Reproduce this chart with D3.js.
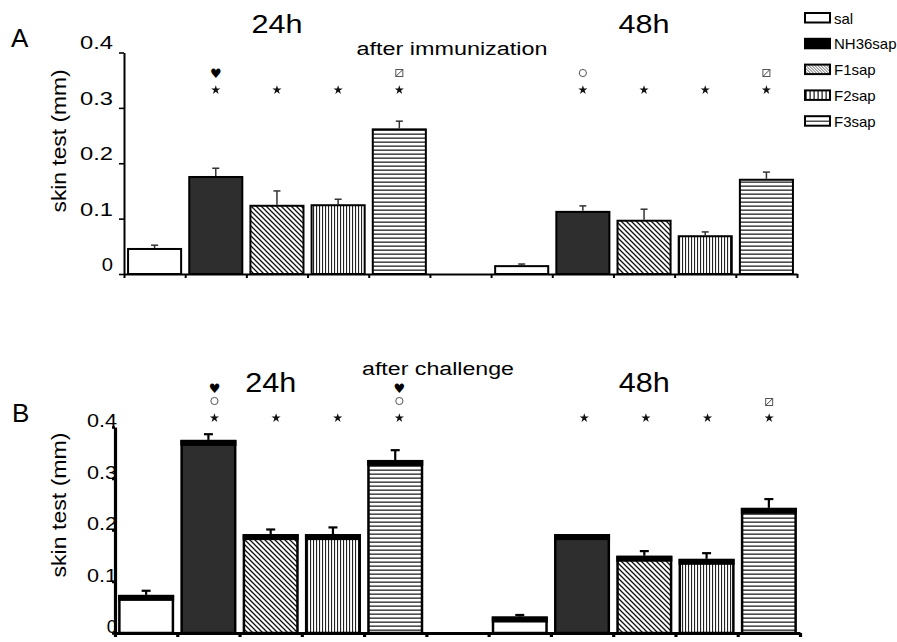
<!DOCTYPE html>
<html><head><meta charset="utf-8">
<script src="https://cdn.jsdelivr.net/npm/d3@7"></script>
<style>
body{margin:0;background:#fff}
svg{display:block}
text{font-family:"Liberation Sans",Arial,Helvetica,sans-serif;fill:#000}
</style>
</head><body><div id="chart"></div>
<script>
// ---------- data ----------
const groups = ["sal","NH36sap","F1sap","F2sap","F3sap"];
const timeLabels = ["24h","48h"];
const yTicks = [0,0.1,0.2,0.3,0.4];
const yTickLabels = ["0","0.1","0.2","0.3","0.4"];

const immun24    = [0.047,0.177,0.125,0.126,0.263];
const immun24Err = [0.005,0.014,0.025,0.009,0.013];
const immun48    = [0.016,0.114,0.098,0.070,0.172];
const immun48Err = [0.002,0.009,0.019,0.006,0.012];
const chall24    = [0.074,0.375,0.192,0.192,0.336];
const chall24Err = [0.008,0.011,0.009,0.013,0.019];
const chall48    = [0.032,0.192,0.150,0.144,0.243];
const chall48Err = [0.003,0.000,0.009,0.011,0.017];

const immunMarks24 = [[],["star","heart"],["star"],["star"],["star","box"]];
const immunMarks48 = [[],["star","circle"],["star"],["star"],["star","box"]];
const challMarks24 = [[],["star","circle","heart"],["star"],["star"],["star","circle","heart"]];
const challMarks48 = [[],["star"],["star"],["star"],["star","box"]];

const panelTitles = ["after immunization","after challenge"];
const panelLetters = ["A","B"];
const yLabel = "skin test (mm)";

// ---------- setup ----------
const W = 897, H = 642;
const svg = d3.select("#chart").append("svg").attr("width",W).attr("height",H);
const defs = svg.append("defs");

function pat(id,w,h,draw){
  const p = defs.append("pattern").attr("id",id).attr("patternUnits","userSpaceOnUse")
    .attr("width",w).attr("height",h);
  p.append("rect").attr("width",w).attr("height",h).attr("fill","#fff");
  draw(p);
}
pat("pF1",5,5,p=>p.append("path").attr("d","M0,0L5,5M-1,4L1,6M4,-1L6,1")
   .attr("stroke","#111").attr("stroke-width",1.3));
pat("pF2",3,10,p=>p.append("rect").attr("x",1).attr("width",1.1).attr("height",10).attr("fill","#222"));
pat("pF3",10,4,p=>p.append("rect").attr("y",1.5).attr("width",10).attr("height",1.3).attr("fill","#222"));
pat("pF1s",3,3,p=>p.append("path").attr("d","M0,0L3,3M-1,2L1,4M2,-1L4,1")
   .attr("stroke","#333").attr("stroke-width",0.8));
pat("pF2s",4,10,p=>p.append("rect").attr("x",1.5).attr("width",1.2).attr("height",10).attr("fill","#111"));

const fills = ["#fff","#2e2e2e","url(#pF1)","url(#pF2)","url(#pF3)"];

const panels = [
  {x0:124,x1:797,y0:274,y1:52.5,axisW:2,barW:2,thickTop:false,errW:1.5,errCol:"#333",cap:7,
   data:[immun24,immun48],err:[immun24Err,immun48Err],marks:[immunMarks24,immunMarks48],
   annot:[124,797],rowY:{star:90,heart:73,box:73,circle:73},
   letter:{x:11,y:47},title:{x:452,y:55,len:191},time:{y:33,size:25},
   tickOff:-10,tickPad:6,tickSize:5,tickFont:18,tickLen:33,ylab:{x:66,y:141,len:143}},
  {x0:115,x1:800,y0:633,y1:427,axisW:3.2,barW:2.5,thickTop:true,errW:2.2,errCol:"#000",cap:9,
   data:[chall24,chall48],err:[chall24Err,chall48Err],marks:[challMarks24,challMarks48],
   annot:[122,800],rowY:{star:418,circle:401,heart:388,box:402},
   letter:{x:12,y:422},title:{x:438,y:375,len:152},time:{y:392,size:27},
   tickOff:-7,tickPad:-5,tickSize:3,tickFont:19,tickLen:30,ylab:{x:66,y:505,len:145}}
];

panels.forEach((P,pi)=>{
  const g = svg.append("g");
  const slots = d3.range(11);
  const xb = d3.scaleBand().domain(slots).range([P.x0,P.x1]).paddingInner(0.1).paddingOuter(0.05);
  const xEdge = d3.scaleLinear().domain([0,11]).range([P.x0,P.x1]);
  const xAnn = d3.scaleLinear().domain([0,11]).range(P.annot);
  const y = d3.scaleLinear().domain([0,0.4]).range([P.y0,P.y1]);

  const rows = [];
  P.data.forEach((vals,t)=>vals.forEach((v,i)=>rows.push({t,i,v,e:P.err[t][i],slot:t*6+i,marks:P.marks[t][i]})));

  // error bars (behind bars)
  const eb = g.append("g").selectAll("g").data(rows.filter(d=>d.e>0)).join("g");
  eb.append("line").attr("x1",d=>xb(d.slot)+xb.bandwidth()/2).attr("x2",d=>xb(d.slot)+xb.bandwidth()/2)
    .attr("y1",d=>y(d.v)).attr("y2",d=>y(d.v+d.e)).attr("stroke",P.errCol).attr("stroke-width",P.errW);
  eb.append("line").attr("x1",d=>xb(d.slot)+xb.bandwidth()/2-P.cap/2).attr("x2",d=>xb(d.slot)+xb.bandwidth()/2+P.cap/2)
    .attr("y1",d=>y(d.v+d.e)).attr("y2",d=>y(d.v+d.e)).attr("stroke",P.errCol).attr("stroke-width",P.errW);

  // bars
  g.append("g").selectAll("rect").data(rows).join("rect")
    .attr("x",d=>xb(d.slot)+P.barW/2).attr("width",xb.bandwidth()-P.barW)
    .attr("y",d=>y(d.v)+P.barW/2).attr("height",d=>y(0)-y(d.v)-P.barW/2)
    .attr("fill",d=>fills[d.i]).attr("stroke","#000").attr("stroke-width",P.barW);
  if(P.thickTop){
    g.append("g").selectAll("rect").data(rows).join("rect")
      .attr("x",d=>xb(d.slot)).attr("width",xb.bandwidth())
      .attr("y",d=>y(d.v)).attr("height",6).attr("fill","#000");
  }

  // x axis
  const xa = g.append("g").attr("transform",`translate(0,${P.y0})`)
    .call(d3.axisBottom(xEdge).tickValues(d3.range(12)).tickSize(4).tickSizeOuter(0).tickFormat(""));
  xa.selectAll("path,line").attr("stroke","#000").attr("stroke-width",P.axisW);

  // y axis
  const ya = g.append("g").attr("transform",`translate(${P.x0},0)`)
    .call(d3.axisLeft(y).tickValues(yTicks).tickSize(P.tickSize).tickSizeOuter(0).tickPadding(P.tickPad)
      .tickFormat((d,i)=>yTickLabels[i]));
  ya.selectAll("path").attr("stroke","#000").attr("stroke-width",P.axisW);
  ya.selectAll("line").attr("stroke","#000").attr("stroke-width",P.axisW*0.8);
  ya.selectAll("text").attr("font-size",P.tickFont).attr("font-family",null)
    .attr("y",P.tickOff).attr("dy","0.36em")
    .attr("textLength",(d,i)=>yTickLabels[i].length>1?P.tickLen:P.tickLen*0.34)
    .attr("lengthAdjust","spacingAndGlyphs");
  ya.raise();

  // annotations
  rows.forEach(d=>{
    const cx = xAnn(d.slot+0.5);
    d.marks.forEach(m=>{
      const cy = P.rowY[m];
      if(m==="star"){
        g.append("path").attr("d",d3.symbol(d3.symbolStar).size(26)())
          .attr("transform",`translate(${cx},${cy})`).attr("fill","#111");
      } else if(m==="heart"){
        g.append("text").text("\u2665").attr("x",cx).attr("y",cy+5).attr("text-anchor","middle")
          .style("font-family","DejaVu Sans").attr("font-size",13);
      } else if(m==="circle"){
        g.append("circle").attr("cx",cx).attr("cy",cy).attr("r",3.6)
          .attr("fill","none").attr("stroke","#555").attr("stroke-width",1);
      } else if(m==="box"){
        g.append("rect").attr("x",cx-3.5).attr("y",cy-3.5).attr("width",7).attr("height",7)
          .attr("fill","#fff").attr("stroke","#555").attr("stroke-width",1);
        g.append("line").attr("x1",cx-3).attr("y1",cy+3).attr("x2",cx+3).attr("y2",cy-3)
          .attr("stroke","#444").attr("stroke-width",1);
      }
    });
  });

  // texts
  g.append("text").text(panelLetters[pi]).attr("x",P.letter.x).attr("y",P.letter.y).attr("font-size",26);
  g.append("text").text(panelTitles[pi]).attr("x",P.title.x).attr("y",P.title.y)
    .attr("text-anchor","middle").attr("font-size",18)
    .attr("textLength",P.title.len).attr("lengthAdjust","spacingAndGlyphs");
  timeLabels.forEach((tl,t)=>{
    g.append("text").text(tl).attr("x",xEdge(t*6+2.5)).attr("y",P.time.y)
      .attr("text-anchor","middle").attr("font-size",P.time.size)
      .attr("textLength",51).attr("lengthAdjust","spacingAndGlyphs");
  });
  g.append("text").text(yLabel).attr("transform",`translate(${P.ylab.x},${P.ylab.y}) rotate(-90)`)
    .attr("text-anchor","middle").attr("font-size",20)
    .attr("textLength",P.ylab.len).attr("lengthAdjust","spacingAndGlyphs");
});

// ---------- legend ----------
const legFills = ["#fff","#000","url(#pF1s)","url(#pF2s)","#fff"];
const leg = svg.append("g").attr("transform","translate(804,12)");
const li = leg.selectAll("g").data(groups).join("g").attr("transform",(d,i)=>`translate(0,${i*25.8})`);
li.append("rect").attr("x",1).attr("y",1).attr("width",25).attr("height",9.5)
  .attr("fill",(d,i)=>legFills[i]).attr("stroke","#000").attr("stroke-width",2);
li.filter((d,i)=>i===4).append("line").attr("x1",1).attr("x2",26).attr("y1",6).attr("y2",6)
  .attr("stroke","#222").attr("stroke-width",1.2);
li.append("text").text(d=>d).attr("x",30).attr("y",11.5).attr("font-size",15);
</script>
</body></html>
